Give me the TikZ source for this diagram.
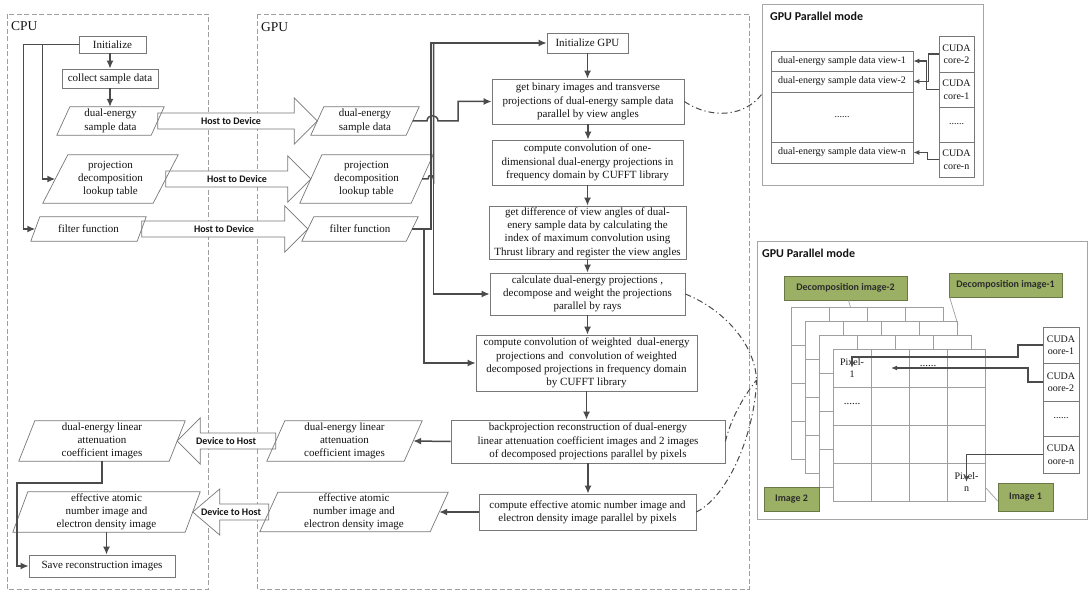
\documentclass[tikz,border=0pt]{standalone}
\usepackage{fontspec}
\setmainfont{Liberation Serif}
\newfontfamily\cfont{Carlito}
\usetikzlibrary{arrows.meta,calc}
\definecolor{edgegray}{RGB}{120,120,120}
\definecolor{conngray}{RGB}{75,75,75}
\definecolor{txtcol}{RGB}{20,20,20}
\definecolor{labgreen}{RGB}{155,176,100}
\definecolor{labedge}{RGB}{105,120,70}
\newcommand\drawpara[2]{\draw[edgegray,line width=0.7pt] (#1.south west) -- ([xshift=-#2pt]#1.south east) -- (#1.north east) -- ([xshift=#2pt]#1.north west) -- cycle;}
\newcommand\fatarrow[3]{\draw[hollow] let \p1=#1, \p2=#2 in
  (\x1,{\y1+8pt}) -- ({\x2-(#3)*1pt},{\y1+8pt}) -- ({\x2-(#3)*1pt},{\y1+23pt}) -- (\x2,\y1) -- ({\x2-(#3)*1pt},{\y1-23pt}) -- ({\x2-(#3)*1pt},{\y1-8pt}) -- (\x1,{\y1-8pt}) -- cycle;}
\begin{document}
\begin{tikzpicture}[x=1pt,y=-1pt,
  mainfont/.style={font=\fontsize{11}{13.3}\selectfont},
  box/.style={draw=edgegray, line width=0.7pt, fill=white, align=center, inner sep=0pt, mainfont, text=txtcol},
  para/.style={inner sep=0pt, align=center, mainfont, text=txtcol},
  conn/.style={draw=conngray, line width=1.5pt, -{Latex[length=8pt,width=7pt]}},
  plain/.style={draw=conngray, line width=1.5pt},
  sconn/.style={draw=conngray, line width=1.2pt, -{Latex[length=6pt,width=5pt]}},
  hollow/.style={draw=edgegray, line width=0.7pt, fill=white},
  tag/.style={font=\cfont\bfseries\fontsize{10}{11}\selectfont, text=txtcol, inner sep=0pt},
  dd/.style={draw=conngray, line width=1pt, dash pattern=on 6pt off 3pt on 1.2pt off 3pt},
  region/.style={draw=gray!75, line width=0.8pt, dash pattern=on 5pt off 2.5pt},
  panel/.style={draw=gray!70, line width=0.9pt, fill=white},
  small/.style={box, font=\fontsize{10}{12.5}\selectfont},
  gridline/.style={draw=gray!75, line width=0.7pt},
  glabel/.style={draw=labedge, line width=0.7pt, fill=labgreen, font=\cfont\bfseries\fontsize{10}{12}\selectfont, text=txtcol!90, inner sep=0pt},
  ptitle/.style={font=\cfont\bfseries\fontsize{12}{14}\selectfont, text=txtcol, anchor=west, inner sep=0pt}
]
\useasboundingbox (0,0) rectangle (1092,593);
\fill[white] (0,0) rectangle (1092,593);

% regions
\draw[region] (7,14) rectangle (208,589);
\draw[region] (257,14) rectangle (749,589);
\node[anchor=west, inner sep=0pt, font=\fontsize{13.5}{15}\selectfont, text=txtcol] (cpulbl) at (11,26) {CPU};
\node[anchor=west, inner sep=0pt, font=\fontsize{13.5}{15}\selectfont, text=txtcol] (gpulbl) at (261,27) {GPU};

% CPU nodes
\node[box, minimum width=67pt, minimum height=17pt] (init) at (112.5,44.5) {Initialize};
\node[box, minimum width=96pt, minimum height=19pt] (collect) at (110,78.5) {collect sample data};
\node[para, minimum width=107pt, minimum height=28pt] (cpuDE) at (110.5,121) {dual-energy\\sample data};
\node[para, minimum width=135pt, minimum height=48pt] (cpuLUT) at (110.5,179) {projection\\decomposition\\lookup table};
\node[para, minimum width=115pt, minimum height=24pt] (cpuFF) at (88.5,229) {filter function};
\node[para, minimum width=166pt, minimum height=40pt] (cpuLAC) at (102,441) {dual-energy linear\\attenuation\\coefficient images};
\node[para, minimum width=187pt, minimum height=40pt] (cpuEAN) at (106.5,512) {effective atomic\\number image and\\electron density image};
\node[box, minimum width=146pt, minimum height=22pt] (save) at (102,566) {Save reconstruction images};

% GPU data nodes
\node[para, minimum width=108pt, minimum height=28pt] (gpuDE) at (365,121) {dual-energy\\sample data};
\node[para, minimum width=133pt, minimum height=48pt] (gpuLUT) at (366.5,179) {projection\\decomposition\\lookup table};
\node[para, minimum width=116pt, minimum height=24pt] (gpuFF) at (360,229) {filter function};
\node[para, minimum width=155pt, minimum height=40pt] (gpuLAC) at (344.5,441) {dual-energy linear\\attenuation\\coefficient images};
\node[para, minimum width=188pt, minimum height=39pt] (gpuEAN) at (354,512) {effective atomic\\number image and\\electron density image};

% hollow arrows
\fatarrow{([xshift=-6.5pt]cpuDE.east)}{([xshift=6.5pt]gpuDE.west)}{23}
\fatarrow{([xshift=-12.5pt]cpuLUT.east)}{([xshift=11pt]gpuLUT.west)}{23}
\fatarrow{([xshift=-4.5pt]cpuFF.east)}{([xshift=6pt]gpuFF.west)}{23}
\fatarrow{([xshift=9pt]gpuLAC.west)}{([xshift=-8pt]cpuLAC.east)}{-23}
\fatarrow{([xshift=9pt]gpuEAN.west)}{([xshift=-7.5pt]cpuEAN.east)}{-27}
\node[tag] (h2d1) at (231,121) {Host to Device};
\node[tag] (h2d2) at (237,179) {Host to Device};
\node[tag] (h2d3) at (224,229) {Host to Device};
\node[tag] (d2h1) at (226,441) {Device to Host};
\node[tag] (d2h2) at (231,512) {Device to Host};

\drawpara{cpuDE}{13}
\drawpara{cpuLUT}{25}
\drawpara{cpuFF}{9}
\drawpara{cpuLAC}{16}
\drawpara{cpuEAN}{15}
\drawpara{gpuDE}{13}
\drawpara{gpuLUT}{22}
\drawpara{gpuFF}{12}
\drawpara{gpuLAC}{18}
\drawpara{gpuEAN}{18}

% GPU process nodes
\node[box, minimum width=81pt, minimum height=20pt] (initGPU) at (587.5,43) {Initialize GPU};
\node[box, minimum width=192pt, minimum height=45pt] (binary) at (588,101.5) {get binary images and transverse\\projections of dual-energy sample data\\parallel by view angles};
\node[box, minimum width=191pt, minimum height=45pt] (conv1) at (587.5,162.5) {compute convolution of one-\\dimensional dual-energy projections in\\frequency domain by CUFFT library};
\node[box, minimum width=197pt, minimum height=53pt] (diff) at (587.5,232.5) {get difference of view angles of dual-\\enery sample data by calculating the\\index of maximum convolution using\\Thrust library and register the view angles};
\node[box, minimum width=195pt, minimum height=42pt] (calc) at (587.5,294) {calculate dual-energy projections ,\\decompose and weight the projections\\parallel by rays};
\node[box, minimum width=221pt, minimum height=56pt] (conv2) at (586.5,363) {compute convolution of weighted\ \ dual-energy\\projections and\ \ convolution of weighted\\decomposed projections in frequency domain\\by CUFFT library};
\node[box, minimum width=274pt, minimum height=43pt] (backproj) at (588,441.5) {backprojection reconstruction of dual-energy\\linear attenuation coefficient images and 2 images\\of decomposed projections parallel by pixels};
\node[box, minimum width=217pt, minimum height=36pt] (effect) at (587.5,512) {compute effective atomic number image and\\electron density image parallel by pixels};

% CPU connectors
\draw[conn] (collect.north |- init.south) -- (collect.north);
\draw[conn] (collect.south) -- (collect.south |- cpuDE.north);
\draw[conn] (init.west) -- ++(-55,0) |- ([xshift=4.5pt]cpuFF.west);
\draw[conn] (init.west) -- ++(-36,0) |- ([xshift=12.5pt]cpuLUT.west);
\draw[conn] (cpuLAC.south) -- ++(0,22) -- ++(-85,0) |- (save.west);
\draw[conn] (cpuEAN.south) -- (cpuEAN.south |- save.north);

% GPU connectors
\draw[conn] ([xshift=-6pt]gpuFF.east) -- (431,229) |- (initGPU.west);
\draw[plain] ([xshift=-11pt]gpuLUT.east) -- (428,179) .. controls (428,174) and (433.5,174) .. (433.5,179) -- (433.5,43);
\draw[conn] (433.5,179) |- (calc.west);
\draw[conn] (424,229) |- (conv2.west);
\draw[conn] ([xshift=-6.5pt]gpuDE.east) -- (427,121) .. controls (427,114) and (438,114) .. (438,121) -- (458,121) |- (binary.west);
\foreach \a/\b in {initGPU/binary, binary/conv1, conv1/diff, diff/calc, calc/conv2, conv2/backproj, backproj/effect}
  \draw[conn] (\a.south) -- (\a.south |- \b.north);
\draw[conn] (backproj.west) -- ([xshift=-9pt]gpuLAC.east);
\draw[conn] (effect.west) -- ([xshift=-9pt]gpuEAN.east);

% ---------- top-right panel ----------
\node[panel, minimum width=221pt, minimum height=181pt, inner sep=0pt] (pm1) at (872.5,94.5) {};
\node[ptitle] (pm1t) at (770,16) {GPU Parallel mode};
\node[small, minimum width=142pt, minimum height=20pt] (v1) at (842,61) {dual-energy sample data view-1};
\node[small, minimum width=142pt, minimum height=21pt] (v2) at (842,81.5) {dual-energy sample data view-2};
\node[small, minimum width=142pt, minimum height=50pt] (vd) at (842,117) {......};
\node[small, minimum width=142pt, minimum height=21pt] (vn) at (842,152.5) {dual-energy sample data view-n};
\node[small, minimum width=35pt, minimum height=36pt] (c2) at (956.5,54) {CUDA\\core-2};
\node[small, minimum width=35pt, minimum height=35pt] (c1) at (956.5,89.5) {CUDA\\core-1};
\node[small, minimum width=35pt, minimum height=35pt] (cd) at (956.5,124.5) {......};
\node[small, minimum width=35pt, minimum height=35pt] (cn) at (956.5,159.5) {CUDA\\core-n};
\draw[sconn] (c2.west) -- ++(-10,0) |- (v2.east);
\draw[sconn] (c1.west) -- ++(-12,0) |- (v1.east);
\draw[sconn] (cn.west) -- ++(-11,0) |- (vn.east);

% ---------- bottom-right panel ----------
\node[panel, minimum width=330pt, minimum height=278pt, inner sep=0pt] (pm2) at (922,380) {};
\node[ptitle] (pm2t) at (762,253) {GPU Parallel mode};
\foreach \k in {3,2,1,0}{
  \pgfmathsetmacro\ox{833-14*\k}
  \pgfmathsetmacro\oy{349-14*\k}
  \filldraw[gridline, fill=white] (\ox,\oy) rectangle ++(152,152);
  \foreach \i in {1,2,3}{
    \draw[gridline] ({\ox+38*\i},\oy) -- ++(0,152);
    \draw[gridline] (\ox,{\oy+38*\i}) -- ++(152,0);
  }
}
\node[align=center, inner sep=0pt, font=\fontsize{10}{12}\selectfont, text=txtcol] (pix1) at (852,368) {Pixel-\\1};
\node[inner sep=0pt, font=\fontsize{11}{12}\selectfont, text=txtcol] (gdots1) at (928,366) {......};
\node[inner sep=0pt, font=\fontsize{11}{12}\selectfont, text=txtcol] (gdots2) at (852,404) {......};
\node[align=center, inner sep=0pt, font=\fontsize{10}{12}\selectfont, text=txtcol] (pixn) at (966.5,482) {Pixel-\\n};
\coordinate (cell10) at (891,368);

\node[small, minimum width=36pt, minimum height=36pt] (b1) at (1061,345) {CUDA\\oore-1};
\node[small, minimum width=36pt, minimum height=38pt] (b2) at (1061,382) {CUDA\\oore-2};
\node[small, minimum width=36pt, minimum height=35pt] (bd) at (1061,418.5) {......};
\node[small, minimum width=36pt, minimum height=37pt] (bn) at (1061,454.5) {CUDA\\oore-n};
\draw[sconn] (b1.west) -| (1018,357) -| (pix1.center);
\draw[sconn] (b2.west) -| (1028,368) -- (cell10);
\draw[sconn] (bn.west) -| (pixn.center);

\node[glabel, minimum width=123pt, minimum height=24pt] (dec2) at (845.5,288) {Decomposition image-2};
\node[glabel, minimum width=113pt, minimum height=24pt] (dec1) at (1005.5,285) {Decomposition image-1};
\node[glabel, minimum width=55pt, minimum height=24pt] (img2) at (791.5,499) {Image 2};
\node[glabel, minimum width=55pt, minimum height=28pt] (img1) at (1025.5,497) {Image 1};
\draw[gridline] ([xshift=3pt]dec2.south) -- ++(2,7);
\draw[gridline] ([xshift=1pt]dec1.south west) -- (958,325);
\draw[gridline] ([yshift=-4pt]img1.west) -- (986,488);

% dash-dot links
\draw[dd] (binary.east) .. controls (712,120) and (745,116) .. (pm1.west);
\draw[dd] (calc.east) .. controls (725,310) and (755,345) .. (pm2.west);
\draw[dd] (backproj.east) .. controls (732,415) and (745,395) .. (pm2.west);
\draw[dd] (effect.east) .. controls (730,495) and (755,430) .. (pm2.west);
\end{tikzpicture}
\end{document}
